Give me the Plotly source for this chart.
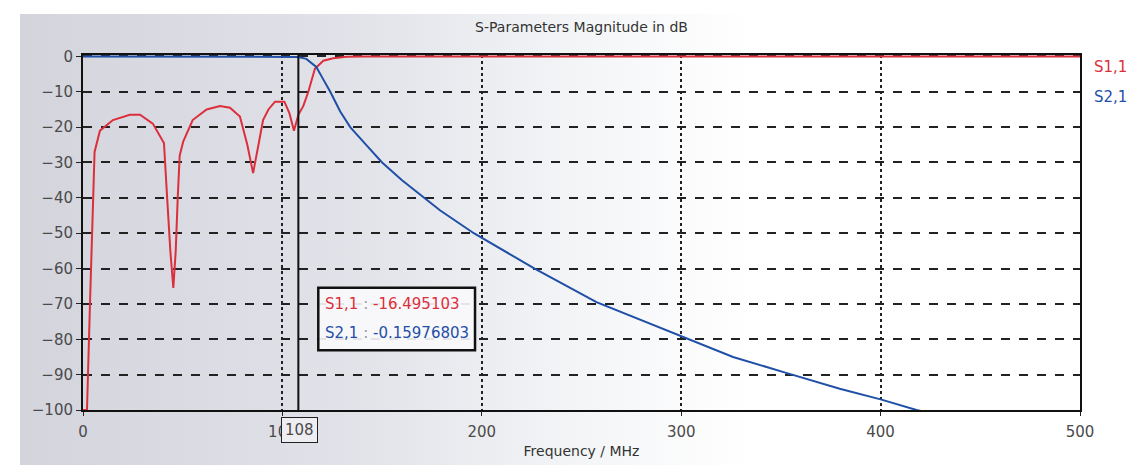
import base64
import plotly.graph_objects as go

# S1,1 (red) - reflection
freq_s11 = [0, 2, 3.5, 5, 5.8, 8.5, 15, 23.5, 28.6, 35, 40.6, 42.2, 43.8, 45.3,
            46.5, 47.5, 48.5, 50.3, 55, 62, 68.7, 73.7, 78.7, 82.4, 85.3, 88,
            90.3, 93, 96.3, 101, 103.5, 105.8, 108, 110.5, 113, 116.3, 120.5,
            125.5, 132, 140, 200, 300, 400, 500]
s11_db = [-100, -100, -70, -40, -27, -21, -18, -16.5, -16.5, -19, -24.5, -40, -55, -65.5,
          -55, -40, -28, -24, -18, -15, -14, -14.5, -17, -25, -33, -25,
          -18, -15, -12.8, -12.8, -16, -21, -16.5, -14, -10, -3.5, -1.2,
          -0.5, -0.1, 0, 0, 0, 0, 0]

# S2,1 (blue) - transmission
freq_s21 = [0, 50, 100, 105, 108, 112, 117, 120, 124, 129, 134, 142, 150, 160, 172,
            179, 196, 226.5, 257.5, 300, 326, 352.6, 379.5, 400, 418, 430]
s21_db = [0, 0, 0, -0.05, -0.16, -0.7, -3, -6, -10, -15.6, -20, -25, -30, -35, -40.5,
          -43.5, -50, -60, -69.5, -79, -85, -89.5, -94, -97, -100, -101.5]

marker_freq = 108
marker_s11 = "-16.495103"
marker_s21 = "-0.15976803"

x_ticks = [0, 100, 200, 300, 400, 500]
y_ticks = [0, -10, -20, -30, -40, -50, -60, -70, -80, -90, -100]

RED = "#dc2f3c"
BLUE = "#1f4fa6"
GRAY = "#4a4a4a"
FONT = "DejaVu Sans"

# page body has an 8px margin, so the figure is drawn 8px in from the corner
W, H = 1136, 457
L, R, T, B = 75, 64, 47, 55

# greyish scan background, fading to white on the right
svg = f"""<svg xmlns='http://www.w3.org/2000/svg' width='{W}' height='{H}' preserveAspectRatio='none'>
<defs><linearGradient id='g' x1='0' y1='0' x2='1' y2='0'>
<stop offset='0' stop-color='#d3d4dc'/><stop offset='0.3' stop-color='#e2e3e9'/>
<stop offset='0.5' stop-color='#f4f5f7'/><stop offset='0.65' stop-color='#ffffff'/>
</linearGradient></defs>
<rect width='{W}' height='{H}' fill='#ffffff'/>
<rect x='12' y='6' width='{W - 12}' height='{H - 6}' fill='url(#g)'/>
</svg>"""
bg_src = "data:image/svg+xml;base64," + base64.b64encode(svg.encode()).decode()

pw, ph = W - L - R, H - T - B

fig = go.Figure()

fig.add_trace(go.Scatter(x=freq_s11, y=s11_db, mode="lines", name="S1,1",
                         line=dict(color=RED, width=2)))
fig.add_trace(go.Scatter(x=freq_s21, y=s21_db, mode="lines", name="S2,1",
                         line=dict(color=BLUE, width=2)))

# marker line
fig.add_vline(x=marker_freq, line=dict(color="#111111", width=2))

# marker readout box
fig.add_shape(type="rect", x0=118, x1=196.6, y0=-65.4, y1=-83.1,
              line=dict(color="#111111", width=2.5), fillcolor="rgba(250,250,252,0.9)")
for i, (name, val, col) in enumerate([("S1,1", marker_s11, RED), ("S2,1", marker_s21, BLUE)]):
    fig.add_annotation(
        x=120.2, y=-69.9 - i * 8.4, xanchor="left", yanchor="middle", showarrow=False,
        text=f"{name} <span style='color:#999'>:</span> {val}",
        font=dict(family=FONT, size=15, color=col),
    )

# marker frequency label on the axis (sits over the "100" tick label)
fig.add_annotation(
    x=marker_freq, y=0, xref="x", yref="paper", yanchor="middle", yshift=-20,
    xshift=1, showarrow=False,
    text=str(marker_freq), font=dict(family=FONT, size=15, color=GRAY),
    bgcolor="#eeeef2", bordercolor="#222222", borderwidth=1, borderpad=3,
)

# trace names at the right
for i, (name, col) in enumerate([("S1,1", RED), ("S2,1", BLUE)]):
    fig.add_annotation(
        x=1.012, y=1 - (12 + 30 * i) / ph, xref="paper", yref="paper",
        xanchor="left", yanchor="middle",
        showarrow=False, text=name, font=dict(family=FONT, size=15, color=col),
    )

fig.update_layout(
    width=W, height=H,
    margin=dict(l=L, r=R, t=T, b=B, autoexpand=False),
    paper_bgcolor="white",
    plot_bgcolor="rgba(0,0,0,0)",
    showlegend=False,
    title=dict(text="S-Parameters Magnitude in dB", x=(L + pw / 2) / W, xanchor="center",
               y=1 - 19 / H, yanchor="middle",
               font=dict(family=FONT, size=14, color="#333333")),
    images=[dict(source=bg_src, xref="paper", yref="paper",
                 x=-L / pw, y=1 + T / ph, sizex=W / pw, sizey=H / ph,
                 xanchor="left", yanchor="top", sizing="stretch", layer="below")],
)

fig.update_xaxes(
    range=[0, 500], tickvals=x_ticks, ticks="outside", ticklen=4, tickcolor="#222",
    ticklabelstandoff=3, automargin=False,
    showline=True, linecolor="#111111", linewidth=2, mirror=True, layer="below traces",
    showgrid=True, gridcolor="#222222", griddash="dot", gridwidth=1.5,
    zeroline=False, tickfont=dict(family=FONT, size=15, color=GRAY),
    title=dict(text="Frequency / MHz", standoff=6,
               font=dict(family=FONT, size=14, color="#333333")),
)
fig.update_yaxes(
    range=[-100, 0.4], tickvals=y_ticks, ticks="outside", ticklen=5, tickcolor="#222",
    automargin=False,
    showline=True, linecolor="#111111", linewidth=2, mirror=True, layer="below traces",
    showgrid=True, gridcolor="#222222", griddash="dash", gridwidth=1.5,
    zeroline=False, tickfont=dict(family=FONT, size=15, color=GRAY),
)

fig.write_html("out.html")
